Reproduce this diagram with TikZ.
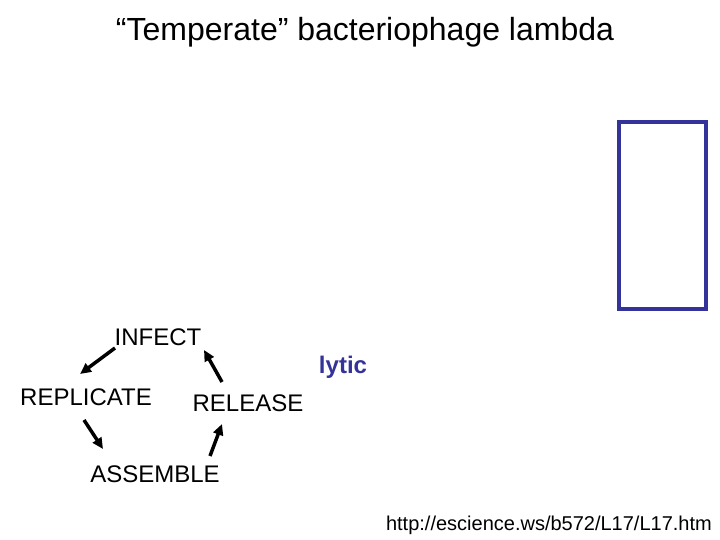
\documentclass[tikz,border=0pt]{standalone}
\usepackage{fontspec}
\setmainfont{Liberation Sans}
\usetikzlibrary{arrows.meta, positioning}
\definecolor{navy}{RGB}{51,51,153}
\begin{document}
\begin{tikzpicture}[x=1pt, y=-1pt, >={Triangle[length=11pt, width=10pt]}]
	\tikzstyle{stage} = [inner sep=0pt, font=\fontsize{24}{28}\selectfont]
	\tikzstyle{arrow} = [line width=3.5pt, ->]
	\useasboundingbox (0,0) rectangle (720,540);

	\node[font=\fontsize{32}{38}\selectfont]	at (365,32)	(title)	{“Temperate” bacteriophage lambda};

	\node[stage]	at (158,337)	(infect)	{INFECT};
	\node[stage]	at (86,397)	(replicate)	{REPLICATE};
	\node[stage]	at (248,403)	(release)	{RELEASE};
	\node[stage]	at (155,474)	(assemble)	{ASSEMBLE};
	\node[font=\fontsize{24}{28}\selectfont\bfseries, text=navy, inner sep=0pt]	at (343,367)	(lytic)	{lytic};

	\node[draw=navy, line width=4pt, minimum width=87pt, minimum height=187pt]	at (662.5,215.5)	(box)	{};

	\node[font=\fontsize{20}{24}\selectfont, anchor=east, inner sep=0pt]	at (712,525)	(url)	{http://escience.ws/b572/L17/L17.htm};

	\coordinate (c1) at (115,348);
	\coordinate (c2) at (80,374);
	\coordinate (c3) at (84,420);
	\coordinate (c4) at (103,449);
	\coordinate (c5) at (210,456);
	\coordinate (c6) at (222,424);
	\coordinate (c7) at (222,382);
	\coordinate (c8) at (204,350);

	\draw [arrow] (c1) -- (c2);
	\draw [arrow] (c3) -- (c4);
	\draw [arrow] (c5) -- (c6);
	\draw [arrow] (c7) -- (c8);
\end{tikzpicture}
\end{document}
